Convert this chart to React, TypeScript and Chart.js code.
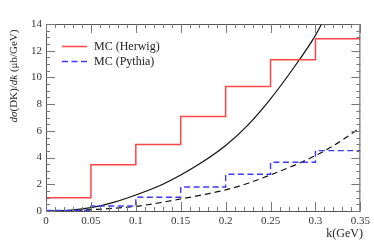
import React, { useEffect, useRef } from "react";
import { Chart, registerables } from "chart.js";

Chart.register(...registerables);

// Histogram bins (bin edges in k, GeV) and bin contents (μb/GeV)
const binEdges = [0, 0.05, 0.1, 0.15, 0.2, 0.25, 0.3, 0.35];
const herwig = [1.0, 3.47, 4.97, 7.07, 9.32, 11.33, 12.9];
const pythia = [0.05, 0.37, 1.03, 1.8, 2.75, 3.65, 4.52];

// Smooth curves
const curveK = [0, 0.025, 0.05, 0.075, 0.1, 0.125, 0.15, 0.175, 0.2, 0.225, 0.25, 0.275, 0.3, 0.31];
const solidCurve = [0, 0.05, 0.25, 0.65, 1.2, 1.85, 2.7, 3.7, 4.9, 6.45, 8.4, 10.65, 13.15, 14.4];
const dashedK = [0, 0.025, 0.05, 0.075, 0.1, 0.125, 0.15, 0.175, 0.2, 0.225, 0.25, 0.275, 0.3, 0.325, 0.35];
const dashedCurve = [0, 0.03, 0.1, 0.2, 0.35, 0.6, 0.9, 1.22, 1.58, 2.08, 2.7, 3.38, 4.15, 5.1, 6.25];

const xTickValues = [0, 0.05, 0.1, 0.15, 0.2, 0.25, 0.3, 0.35];
const xTickLabels = ["0", "0.05", "0.1", "0.15", "0.2", "0.25", "0.3", "0.35"];
const yTickValues = [0, 2, 4, 6, 8, 10, 12, 14];

const legendLabels = ["MC (Herwig)", "MC (Pythia)"];
const xTitle = "k(GeV)";

const SERIF = "'Liberation Serif', 'DejaVu Serif', serif";

function histPoints(vals: number[]) {
  return binEdges.map((x, i) => ({ x, y: vals[Math.min(i, vals.length - 1)] }));
}

const framePlugin = {
  id: "frame",
  afterDraw(chart: any) {
    const { ctx, chartArea: a, scales } = chart;
    const xs = scales.x;
    const ys = scales.y;
    ctx.save();
    // frame
    ctx.strokeStyle = "#555";
    ctx.lineWidth = 1;
    ctx.strokeRect(a.left + 0.5, a.top + 0.5, a.right - a.left - 1, a.bottom - a.top);
    // ticks
    ctx.strokeStyle = "#777";
    ctx.beginPath();
    for (let i = 0; i <= 35; i++) {
      const v = i / 100;
      const px = Math.round(xs.getPixelForValue(v)) + 0.5;
      const len = i % 5 === 0 ? 9 : 4;
      ctx.moveTo(px, a.bottom);
      ctx.lineTo(px, a.bottom - len);
      ctx.moveTo(px, a.top);
      ctx.lineTo(px, a.top + len);
    }
    for (let i = 0; i <= 28; i++) {
      const v = i / 2;
      const py = Math.round(ys.getPixelForValue(v)) + 0.5;
      const len = i % 4 === 0 ? 9 : 4;
      ctx.moveTo(a.left, py);
      ctx.lineTo(a.left + len, py);
      ctx.moveTo(a.right, py);
      ctx.lineTo(a.right - len, py);
    }
    ctx.stroke();

    // legend
    const ds = chart.data.datasets;
    const rows = [
      { y: 46.5, d: ds[0], label: legendLabels[0] },
      { y: 61.5, d: ds[1], label: legendLabels[1] },
    ];
    ctx.font = `12px ${SERIF}`;
    ctx.textBaseline = "middle";
    ctx.textAlign = "left";
    rows.forEach((r) => {
      ctx.beginPath();
      ctx.strokeStyle = r.d.borderColor;
      ctx.lineWidth = r.d.borderWidth;
      ctx.setLineDash(r.d.borderDash || []);
      ctx.moveTo(62, r.y);
      ctx.lineTo(87, r.y);
      ctx.stroke();
      ctx.setLineDash([]);
      ctx.fillStyle = "#222";
      ctx.fillText(r.label, 94, r.y + 0.5);
    });

    // x title
    ctx.font = `12px ${SERIF}`;
    ctx.textAlign = "right";
    ctx.fillStyle = "#222";
    ctx.fillText(xTitle, 363, 234);

    // y title (mixed italic / upright)
    const segs = [
      { t: "dσ", it: true },
      { t: "(DK)", it: false },
      { t: "/", it: false },
      { t: "dk", it: true },
      { t: " (μb/GeV)", it: false },
    ];
    const fontFor = (it: boolean) => `${it ? "italic " : ""}11px ${SERIF}`;
    let total = 0;
    segs.forEach((s) => {
      ctx.font = fontFor(s.it);
      total += ctx.measureText(s.t).width;
    });
    ctx.translate(14, 76);
    ctx.rotate(-Math.PI / 2);
    ctx.textAlign = "left";
    let xx = -total / 2;
    segs.forEach((s) => {
      ctx.font = fontFor(s.it);
      ctx.fillText(s.t, xx, 0);
      xx += ctx.measureText(s.t).width;
    });
    ctx.restore();
  },
};

export default function App() {
  const ref = useRef<HTMLCanvasElement | null>(null);
  useEffect(() => {
    if (!ref.current) return;
    const chart = new Chart(ref.current, {
      type: "line",
      data: {
        datasets: [
          {
            label: legendLabels[0],
            data: histPoints(herwig),
            borderColor: "#ff4545",
            borderWidth: 1.5,
            stepped: "before",
            pointRadius: 0,
            fill: false,
          },
          {
            label: legendLabels[1],
            data: histPoints(pythia),
            borderColor: "#3a3aff",
            borderWidth: 1.4,
            borderDash: [6, 3.5],
            stepped: "before",
            pointRadius: 0,
            fill: false,
          },
          {
            label: "curve",
            data: curveK.map((x, i) => ({ x, y: solidCurve[i] })),
            borderColor: "#111",
            borderWidth: 1.2,
            cubicInterpolationMode: "monotone",
            pointRadius: 0,
            fill: false,
          },
          {
            label: "dashed curve",
            data: dashedK.map((x, i) => ({ x, y: dashedCurve[i] })),
            borderColor: "#111",
            borderWidth: 1.2,
            borderDash: [6, 4],
            cubicInterpolationMode: "monotone",
            pointRadius: 0,
            fill: false,
          },
        ],
      },
      options: {
        animation: false,
        responsive: false,
        layout: { padding: { top: 24, right: 12, left: 0, bottom: 0 } },
        plugins: { legend: { display: false }, tooltip: { enabled: false } },
        scales: {
          x: {
            type: "linear",
            min: 0,
            max: 0.35,
            grid: { display: false, drawTicks: false },
            border: { display: false },
            afterBuildTicks: (s: any) => {
              s.ticks = xTickValues.map((v) => ({ value: v }));
            },
            afterFit: (s: any) => {
              s.height = 32;
            },
            ticks: {
              padding: 4,
              maxRotation: 0,
              autoSkip: false,
              color: "#333",
              font: { family: SERIF, size: 11 },
              callback: (v: any) => {
                const i = xTickValues.findIndex((t) => Math.abs(t - v) < 1e-9);
                return i >= 0 ? xTickLabels[i] : "";
              },
            },
          },
          y: {
            type: "linear",
            min: 0,
            max: 14,
            grid: { display: false, drawTicks: false },
            border: { display: false },
            afterBuildTicks: (s: any) => {
              s.ticks = yTickValues.map((v) => ({ value: v }));
            },
            afterFit: (s: any) => {
              s.width = 46;
            },
            ticks: {
              padding: 4,
              color: "#333",
              font: { family: SERIF, size: 11 },
            },
          },
        },
      },
      plugins: [framePlugin],
    } as any);
    return () => chart.destroy();
  }, []);
  return (
    <div style={{ position: "absolute", left: 0, top: 0, width: 374, height: 243, background: "#fff" }}>
      <canvas ref={ref} width={374} height={243} style={{ width: 374, height: 243, display: "block" }} />
    </div>
  );
}
